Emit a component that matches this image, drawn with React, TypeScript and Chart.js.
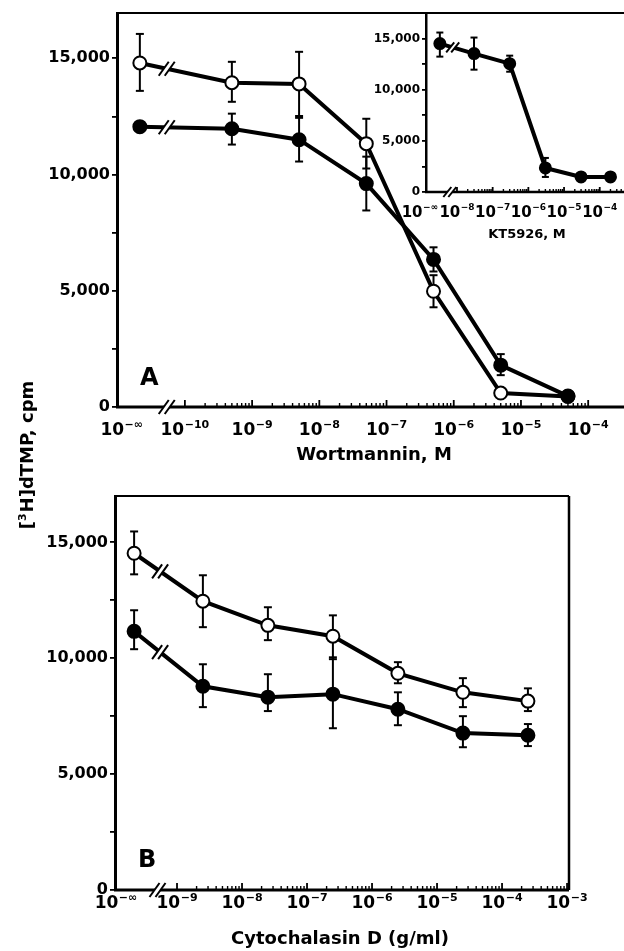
import React, { useEffect, useRef } from "react";
import { Chart, registerables } from "chart.js";

Chart.register(...registerables);

const W = 624;
const H = 951;
const FONT = '"DejaVu Sans", "Liberation Sans", sans-serif';

// ---------- Panel A: Wortmannin (M); 0 means 10^-inf ----------
const wortConc = [0, 5e-10, 5e-9, 5e-8, 5e-7, 5e-6, 5e-5];
const wortOpen = [14800, 13950, 13900, 11330, 4980, 600, 450];
const wortOpenHi = [16050, 14850, 15280, 12400, 5670, null, null];
const wortOpenLo = [13600, 13130, 12520, 10260, 4290, null, null];
const wortFilled = [12060, 11970, 11500, 9610, 6350, 1800, 470];
const wortFilledHi = [null, 12620, 12440, 10770, 6870, 2275, null];
const wortFilledLo = [null, 11290, 10560, 8455, 5830, 1370, null];
const wortTickExps = [-10, -9, -8, -7, -6, -5, -4];

// ---------- Inset: KT5926 (M) ----------
const ktConc = [0, 3e-8, 3e-7, 3e-6, 3e-5, 2e-4];
const ktFilled = [14510, 13530, 12550, 2350, 1470, 1470];
const ktFilledHi = [15590, 15100, 13330, 3330, null, null];
const ktFilledLo = [13235, 11960, 11760, 1470, null, null];
const ktTickExps = [-8, -7, -6, -5, -4];

// ---------- Panel B: Cytochalasin D (g/ml) ----------
const cytoConc = [0, 2.5e-9, 2.5e-8, 2.5e-7, 2.5e-6, 2.5e-5, 2.5e-4];
const cytoOpen = [14530, 12460, 11420, 10950, 9350, 8530, 8150];
const cytoOpenHi = [15470, 13580, 12200, 11850, 9830, 9140, 8700];
const cytoOpenLo = [13620, 11340, 10780, 9960, 8920, 7890, 7720];
const cytoFilled = [11160, 8790, 8320, 8450, 7800, 6770, 6680];
const cytoFilledHi = [12070, 9740, 9310, 10040, 8530, 7500, 7160];
const cytoFilledLo = [10390, 7890, 7720, 6980, 7110, 6160, 6210];
const cytoTickExps = [-9, -8, -7, -6, -5, -4, -3];

type Series = {
  values: number[];
  hi: (number | null)[];
  lo: (number | null)[];
  filled: boolean;
};

type Panel = {
  conc: number[];
  series: Series[];
  xMin: number;
  xMax: number;
  yMax: number;
  zeroPos: number;
  pad: { left: number; top: number; right: number; bottom: number };
  yWidth: number;
  majors: number[];
  minorDecades: number[];
  infLabelPos: number;
  axisBreak: number;
  lineBreak: number;
  tickFont: number;
  labelBase: number;
  labelSup: number;
  labelRise: number;
  labelBaseline: number;
  title: string;
  titleSize: number;
  titleX: number;
  titleBaseline: number;
  letter?: string;
  letterX?: number;
  letterY?: number;
  letterSize?: number;
  lineWidth: number;
  pointRadius: number;
  capHalf: number;
  brk: { hx: number; hy: number; gap: number };
  majorTick: number;
  minorTick: number;
  rightBorder: boolean;
  yTitle: boolean;
  axisWidth: number;
  yTickLen: number;
};

const panelA: Panel = {
  conc: wortConc,
  series: [
    { values: wortFilled, hi: wortFilledHi, lo: wortFilledLo, filled: true },
    { values: wortOpen, hi: wortOpenHi, lo: wortOpenLo, filled: false },
  ],
  xMin: -11.01,
  xMax: -3.467,
  yMax: 16950,
  zeroPos: -10.67,
  pad: { left: 0, top: 13, right: 0, bottom: H - 407 },
  yWidth: 117,
  majors: wortTickExps,
  minorDecades: [-10, -9, -8, -7, -6, -5],
  infLabelPos: -10.94,
  axisBreak: -10.27,
  lineBreak: -10.27,
  tickFont: 16,
  labelBase: 17,
  labelSup: 11,
  labelRise: 7,
  labelBaseline: 435,
  title: "Wortmannin, M",
  titleSize: 18,
  titleX: 374,
  titleBaseline: 460,
  letter: "A",
  letterX: 140,
  letterY: 385,
  letterSize: 24,
  lineWidth: 4,
  pointRadius: 6.5,
  capHalf: 4,
  brk: { hx: 5, hy: 7, gap: 6 },
  majorTick: 7,
  minorTick: 4,
  rightBorder: false,
  yTitle: false,
  axisWidth: 3,
  yTickLen: 5,
};

const panelInset: Panel = {
  conc: ktConc,
  series: [{ values: ktFilled, hi: ktFilledHi, lo: ktFilledLo, filled: true }],
  xMin: -8.868,
  xMax: -3.32,
  yMax: 17500,
  zeroPos: -8.48,
  pad: { left: 366, top: 13, right: 0, bottom: H - 192 },
  yWidth: 60,
  majors: ktTickExps,
  minorDecades: [-8, -7, -6, -5, -4],
  infLabelPos: -9.04,
  axisBreak: -8.2,
  lineBreak: -8.12,
  tickFont: 12,
  labelBase: 15,
  labelSup: 9,
  labelRise: 7,
  labelBaseline: 217,
  title: "KT5926, M",
  titleSize: 13,
  titleX: 527,
  titleBaseline: 238,
  lineWidth: 4,
  pointRadius: 5.5,
  capHalf: 3.5,
  brk: { hx: 4, hy: 5, gap: 5 },
  majorTick: 5,
  minorTick: 3,
  rightBorder: false,
  yTitle: false,
  axisWidth: 2.5,
  yTickLen: 4,
};

const panelB: Panel = {
  conc: cytoConc,
  series: [
    { values: cytoFilled, hi: cytoFilledHi, lo: cytoFilledLo, filled: true },
    { values: cytoOpen, hi: cytoOpenHi, lo: cytoOpenLo, filled: false },
  ],
  xMin: -9.954,
  xMax: -2.97,
  yMax: 17000,
  zeroPos: -9.66,
  pad: { left: 0, top: 496, right: W - 569, bottom: H - 890 },
  yWidth: 115,
  majors: cytoTickExps,
  minorDecades: [-9, -8, -7, -6, -5, -4],
  infLabelPos: -9.94,
  axisBreak: -9.3,
  lineBreak: -9.26,
  tickFont: 16,
  labelBase: 17,
  labelSup: 11,
  labelRise: 7,
  labelBaseline: 908,
  title: "Cytochalasin D (g/ml)",
  titleSize: 18,
  titleX: 340,
  titleBaseline: 944,
  letter: "B",
  letterX: 138,
  letterY: 867,
  letterSize: 24,
  lineWidth: 4,
  pointRadius: 6.5,
  capHalf: 4,
  brk: { hx: 5, hy: 7, gap: 6 },
  majorTick: 7,
  minorTick: 4,
  rightBorder: true,
  yTitle: true,
  axisWidth: 3,
  yTickLen: 5,
};

function bold(size: number) {
  return `bold ${size}px ${FONT}`;
}

function drawPow(
  ctx: CanvasRenderingContext2D,
  cx: number,
  baseY: number,
  exp: string,
  baseSize: number,
  supSize: number,
  rise: number
) {
  ctx.font = bold(baseSize);
  const w1 = ctx.measureText("10").width;
  ctx.font = bold(supSize);
  const w2 = ctx.measureText(exp).width;
  const gap = 0.5;
  const x0 = cx - (w1 + gap + w2) / 2;
  ctx.textAlign = "left";
  ctx.textBaseline = "alphabetic";
  ctx.fillStyle = "#000";
  ctx.font = bold(baseSize);
  ctx.fillText("10", x0, baseY);
  ctx.font = bold(supSize);
  ctx.fillText(exp, x0 + w1 + gap, baseY - rise);
}

function drawBreak(
  ctx: CanvasRenderingContext2D,
  cx: number,
  cy: number,
  b: { hx: number; hy: number; gap: number }
) {
  ctx.save();
  ctx.fillStyle = "#fff";
  const g = b.gap / 2;
  ctx.beginPath();
  ctx.moveTo(cx - g - b.hx, cy + b.hy);
  ctx.lineTo(cx - g + b.hx, cy - b.hy);
  ctx.lineTo(cx + g + b.hx, cy - b.hy);
  ctx.lineTo(cx + g - b.hx, cy + b.hy);
  ctx.closePath();
  ctx.fill();
  ctx.strokeStyle = "#000";
  ctx.lineWidth = 2;
  ctx.lineCap = "butt";
  for (const s of [-g, g]) {
    ctx.beginPath();
    ctx.moveTo(cx + s - b.hx, cy + b.hy);
    ctx.lineTo(cx + s + b.hx, cy - b.hy);
    ctx.stroke();
  }
  ctx.restore();
}

function line(ctx: CanvasRenderingContext2D, x1: number, y1: number, x2: number, y2: number, w: number) {
  ctx.beginPath();
  ctx.lineWidth = w;
  ctx.strokeStyle = "#000";
  ctx.moveTo(x1, y1);
  ctx.lineTo(x2, y2);
  ctx.stroke();
}

function makeChart(canvas: HTMLCanvasElement, p: Panel) {
  const toX = (c: number) => (c === 0 ? p.zeroPos : Math.log10(c));

  const datasets = p.series.map((s) => ({
    data: p.conc.map((c, i) => ({ x: toX(c), y: s.values[i] })),
    borderColor: "#000",
    borderWidth: p.lineWidth,
    pointRadius: p.pointRadius,
    pointHoverRadius: p.pointRadius,
    pointBorderWidth: 2,
    pointBackgroundColor: s.filled ? "#000" : "#fff",
    pointBorderColor: "#000",
    order: s.filled ? 0 : 1,
    tension: 0,
    fill: false,
    clip: false as any,
  }));

  const deco = {
    id: "deco",
    beforeDatasetsDraw(chart: any) {
      const ctx: CanvasRenderingContext2D = chart.ctx;
      const xs = chart.scales.x;
      const ys = chart.scales.y;
      ctx.save();
      p.series.forEach((s) => {
        p.conc.forEach((c, j) => {
          const hi = s.hi[j];
          const lo = s.lo[j];
          if (hi == null && lo == null) return;
          const x = xs.getPixelForValue(toX(c));
          const yh = ys.getPixelForValue(hi ?? s.values[j]);
          const yl = ys.getPixelForValue(lo ?? s.values[j]);
          line(ctx, x, yh, x, yl, 2);
          if (hi != null) line(ctx, x - p.capHalf, yh, x + p.capHalf, yh, 2);
          if (lo != null) line(ctx, x - p.capHalf, yl, x + p.capHalf, yl, 2);
        });
      });
      ctx.restore();
    },
    afterDatasetsDraw(chart: any) {
      const ctx: CanvasRenderingContext2D = chart.ctx;
      const xs = chart.scales.x;
      const ys = chart.scales.y;
      p.series.forEach((s) => {
        const x0 = xs.getPixelForValue(toX(p.conc[0]));
        const x1 = xs.getPixelForValue(toX(p.conc[1]));
        const y0 = ys.getPixelForValue(s.values[0]);
        const y1 = ys.getPixelForValue(s.values[1]);
        const xb = xs.getPixelForValue(p.lineBreak);
        const yb = y0 + ((y1 - y0) * (xb - x0)) / (x1 - x0);
        drawBreak(ctx, xb, yb, p.brk);
      });
    },
    afterDraw(chart: any) {
      const ctx: CanvasRenderingContext2D = chart.ctx;
      const xs = chart.scales.x;
      const a = chart.chartArea;
      const X = (v: number) => xs.getPixelForValue(v);
      ctx.save();
      // frame
      line(ctx, a.left, a.top, a.right, a.top, 2);
      if (p.rightBorder) line(ctx, a.right, a.top, a.right, a.bottom, 2.5);
      line(ctx, a.left - 1, a.bottom, a.right, a.bottom, p.axisWidth);
      // inward log ticks
      p.majors.forEach((m) => {
        const x = X(m);
        if (x <= a.right + 0.5) line(ctx, x, a.bottom, x, a.bottom - p.majorTick, 1.8);
      });
      p.minorDecades.forEach((d) => {
        for (let k = 2; k <= 9; k++) {
          const v = d + Math.log10(k);
          if (v > p.xMax) continue;
          const x = X(v);
          line(ctx, x, a.bottom, x, a.bottom - p.minorTick, 1.4);
        }
      });
      // axis break
      drawBreak(ctx, X(p.axisBreak), a.bottom, p.brk);
      // tick labels
      p.majors.forEach((m) => {
        drawPow(ctx, X(m), p.labelBaseline, "\u2212" + Math.abs(m), p.labelBase, p.labelSup, p.labelRise);
      });
      drawPow(ctx, X(p.infLabelPos), p.labelBaseline, "\u2212\u221E", p.labelBase, p.labelSup, p.labelRise);
      // axis title
      ctx.fillStyle = "#000";
      ctx.font = bold(p.titleSize);
      ctx.textAlign = "center";
      ctx.textBaseline = "alphabetic";
      ctx.fillText(p.title, p.titleX, p.titleBaseline);
      // panel letter
      if (p.letter) {
        ctx.font = bold(p.letterSize || 24);
        ctx.textAlign = "left";
        ctx.fillText(p.letter, p.letterX || 0, p.letterY || 0);
      }
      // shared y title
      if (p.yTitle) {
        ctx.save();
        ctx.translate(33, 455);
        ctx.rotate(-Math.PI / 2);
        const big = bold(18);
        const small = bold(11);
        ctx.font = big;
        const wA = ctx.measureText("[").width;
        const wC = ctx.measureText("H]dTMP, cpm").width;
        ctx.font = small;
        const wB = ctx.measureText("3").width;
        const total = wA + wB + wC + 1;
        let x = -total / 2;
        ctx.textAlign = "left";
        ctx.font = big;
        ctx.fillText("[", x, 0);
        x += wA;
        ctx.font = small;
        ctx.fillText("3", x, -7);
        x += wB + 1;
        ctx.font = big;
        ctx.fillText("H]dTMP, cpm", x, 0);
        ctx.restore();
      }
      ctx.restore();
    },
  };

  return new Chart(canvas, {
    type: "line",
    data: { datasets: datasets as any },
    options: {
      responsive: false,
      animation: false,
      devicePixelRatio: 1,
      events: [],
      layout: { padding: p.pad, autoPadding: false },
      plugins: { legend: { display: false }, tooltip: { enabled: false } },
      scales: {
        x: { type: "linear", min: p.xMin, max: p.xMax, display: false },
        y: {
          type: "linear",
          min: 0,
          max: p.yMax,
          afterBuildTicks: (s: any) => {
            const t: any[] = [];
            for (let v = 0; v <= p.yMax; v += 2500) t.push({ value: v });
            s.ticks = t;
          },
          afterFit: (s: any) => {
            s.width = p.yWidth;
          },
          ticks: {
            autoSkip: false,
            padding: 2,
            color: "#000",
            font: { family: FONT, size: p.tickFont, weight: "bold" },
            callback: (v: any) => {
              const n = Number(v);
              if (n % 5000 !== 0) return "";
              return n === 0 ? "0" : n.toLocaleString("en-US");
            },
          },
          grid: {
            drawOnChartArea: false,
            drawTicks: true,
            tickLength: p.yTickLen,
            color: "#000",
            lineWidth: 1.8,
          },
          border: { display: true, color: "#000", width: p.axisWidth },
        },
      },
    },
    plugins: [deco],
  } as any);
}

export default function App() {
  const refA = useRef<HTMLCanvasElement>(null);
  const refI = useRef<HTMLCanvasElement>(null);
  const refB = useRef<HTMLCanvasElement>(null);

  useEffect(() => {
    const charts: Chart[] = [];
    if (refA.current) charts.push(makeChart(refA.current, panelA));
    if (refB.current) charts.push(makeChart(refB.current, panelB));
    if (refI.current) charts.push(makeChart(refI.current, panelInset));
    return () => charts.forEach((c) => c.destroy());
  }, []);

  const cs: React.CSSProperties = { position: "absolute", left: 0, top: 0 };
  return (
    <div style={{ position: "absolute", left: 0, top: 0, width: W, height: H, background: "#fff", overflow: "hidden" }}>
      <canvas ref={refA} width={W} height={H} style={cs} />
      <canvas ref={refB} width={W} height={H} style={cs} />
      <canvas ref={refI} width={W} height={H} style={cs} />
    </div>
  );
}
